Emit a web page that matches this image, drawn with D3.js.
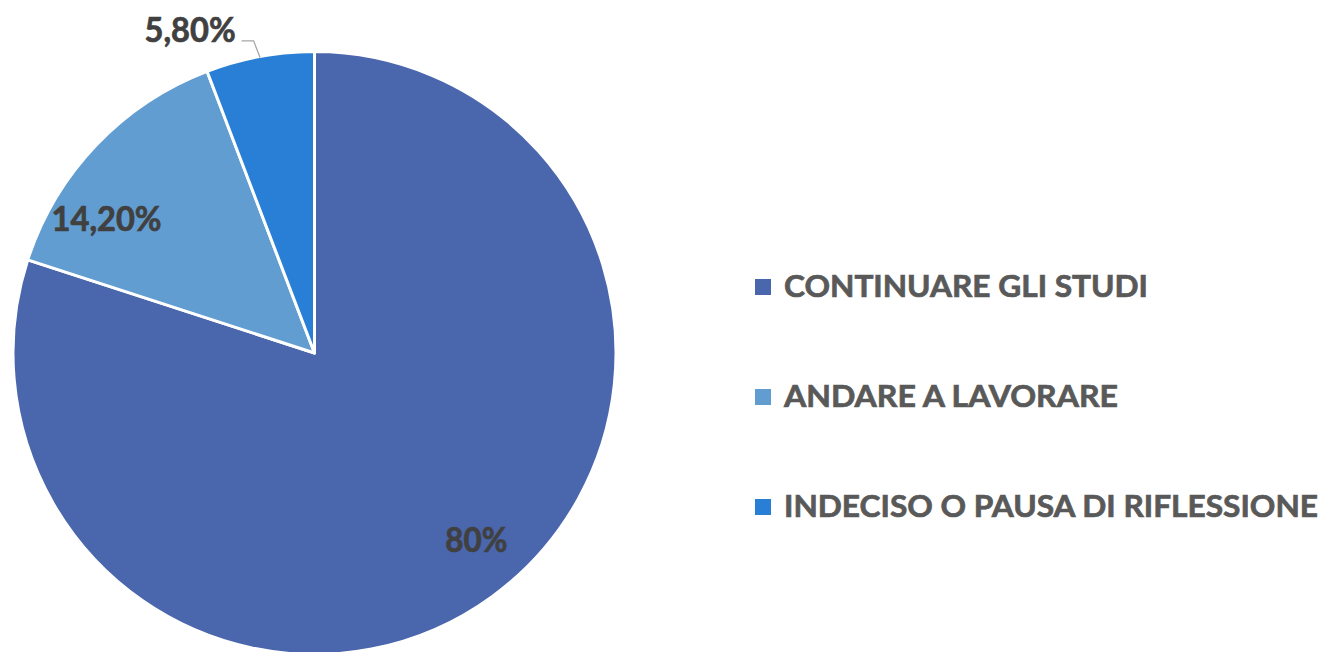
<!DOCTYPE html>
<html>
<head>
<meta charset="utf-8">
<script src="https://cdn.jsdelivr.net/npm/d3@7"></script>
<style>
  html, body { margin: 0; padding: 0; background: #ffffff; }
  svg { display: block; }
</style>
</head>
<body>
<svg id="chart" width="1325" height="652"></svg>
<script>
// ---- data ----
const categories = ["CONTINUARE GLI STUDI", "ANDARE A LAVORARE", "INDECISO O PAUSA DI RIFLESSIONE"];
const values = [80, 14.2, 5.8];
const valueLabels = ["80%", "14,20%", "5,80%"];
const colors = ["#4A66AC", "#629DD1", "#297FD5"];

// ---- layout ----
const W = 1325, H = 652;
const cx = 314.5, cy = 353, R = 301.5;
const FONT = "Lato, 'Open Sans', 'Noto Sans', sans-serif";
// label placement: [radius factor, angle shift in degrees, outside?]
const labelLayout = [
  {rf: 0.82, shift: -4.9, outside: false, width: 62},
  {rf: 0.82, shift: -10.8, outside: false, width: 110},
  {rf: 1.055, shift: -0.6, outside: true, width: 91}
];
const legendWidths = [364, 334, 534];

const svg = d3.select("#chart");
const data = categories.map((c, i) => ({cat: c, value: values[i], label: valueLabels[i], color: colors[i]}));

const pie = d3.pie().sort(null).value(d => d.value).startAngle(0).endAngle(2 * Math.PI);
const arcs = pie(data);
const arc = d3.arc().innerRadius(0).outerRadius(R);

const g = svg.append("g").attr("transform", `translate(${cx},${cy})`);

g.selectAll("path.slice")
  .data(arcs)
  .join("path")
  .attr("class", "slice")
  .attr("d", arc)
  .attr("fill", d => d.data.color)
  .attr("stroke", "#ffffff")
  .attr("stroke-width", 3)
  .attr("stroke-linejoin", "round");

// polar helper (angle measured clockwise from 12 o'clock)
const pt = (a, r) => [Math.sin(a) * r, -Math.cos(a) * r];

arcs.forEach((d, i) => {
  const L = labelLayout[i];
  const mid = (d.startAngle + d.endAngle) / 2 + L.shift * Math.PI / 180;
  if (!L.outside) {
    const [x, y] = pt(mid, R * L.rf);
    g.append("text")
      .attr("x", x).attr("y", y)
      .attr("text-anchor", "middle")
      .attr("dy", "0.36em")
      .attr("font-family", FONT)
      .attr("font-weight", 700)
      .attr("font-size", 33.5)
      .attr("fill", "#404040")
      .attr("stroke", "#404040")
      .attr("stroke-width", 0.7)
      .attr("textLength", L.width)
      .attr("lengthAdjust", "spacingAndGlyphs")
      .text(d.data.label);
  } else {
    const midTrue = (d.startAngle + d.endAngle) / 2;
    const p0 = pt(midTrue, R - 1);
    const p1 = pt(mid, R * L.rf);
    const p2 = [p1[0] - 12, p1[1]];
    g.append("polyline")
      .attr("points", [p0, p1, p2].map(p => p.join(",")).join(" "))
      .attr("fill", "none")
      .attr("stroke", "#A6A6A6")
      .attr("stroke-width", 1.3);
    g.append("text")
      .attr("x", p2[0] - 6).attr("y", p2[1] + 1)
      .attr("text-anchor", "end")
      .attr("font-family", FONT)
      .attr("font-weight", 700)
      .attr("font-size", 33.5)
      .attr("fill", "#404040")
      .attr("stroke", "#404040")
      .attr("stroke-width", 0.7)
      .attr("textLength", L.width)
      .attr("lengthAdjust", "spacingAndGlyphs")
      .text(d.data.label);
  }
});

// ---- legend ----
const legendY = d3.scalePoint().domain(categories).range([287, 507]);
const legend = svg.append("g");
const items = legend.selectAll("g.item")
  .data(data)
  .join("g")
  .attr("class", "item")
  .attr("transform", d => `translate(755,${legendY(d.cat)})`);

items.append("rect")
  .attr("x", 0).attr("y", -8)
  .attr("width", 16).attr("height", 16)
  .attr("fill", d => d.color);

items.append("text")
  .attr("x", 29).attr("y", 10)
  .attr("font-family", FONT)
  .attr("font-weight", 700)
  .attr("font-size", 30.7)
  .attr("fill", "#595959")
  .attr("stroke", "#595959")
  .attr("stroke-width", 0.7)
  .attr("textLength", (d, i) => legendWidths[i])
  .attr("lengthAdjust", "spacingAndGlyphs")
  .text(d => d.cat);
</script>
</body>
</html>
